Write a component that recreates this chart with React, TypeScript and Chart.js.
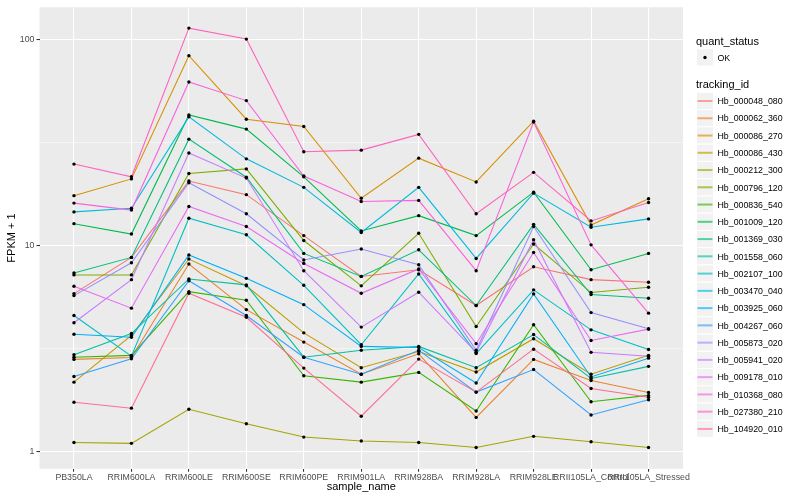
import React, { useEffect, useRef } from 'react';
import { Chart, registerables } from 'chart.js';

Chart.register(...registerables);

// ---------- data ----------
const categories = [
  'PB350LA', 'RRIM600LA', 'RRIM600LE', 'RRIM600SE', 'RRIM600PE', 'RRIM901LA',
  'RRIM928BA', 'RRIM928LA', 'RRIM928LE', 'RRII105LA_Control', 'RRII105LA_Stressed',
];

const trackingIds = [
  'Hb_000048_080', 'Hb_000062_360', 'Hb_000086_270', 'Hb_000086_430', 'Hb_000212_300',
  'Hb_000796_120', 'Hb_000836_540', 'Hb_001009_120', 'Hb_001369_030', 'Hb_001558_060',
  'Hb_002107_100', 'Hb_003470_040', 'Hb_003925_060', 'Hb_004267_060', 'Hb_005873_020',
  'Hb_005941_020', 'Hb_009178_010', 'Hb_010368_080', 'Hb_027380_210', 'Hb_104920_010',
];

const quantStatus = ['OK'];

const hb_000048_080 = [5.86, 8.78, 20.6, 17.7, 11.2, 7.10, 7.65, 5.13, 7.91, 6.85, 6.65];
const hb_000062_360 = [2.81, 2.87, 8.15, 4.90, 3.41, 2.38, 2.99, 1.47, 2.81, 2.22, 1.94];
const hb_000086_270 = [17.5, 21.1, 83.6, 41.1, 37.9, 17.0, 26.6, 20.4, 40.2, 12.6, 16.9];
const hb_000086_430 = [2.18, 3.67, 8.62, 6.40, 3.78, 2.56, 3.07, 2.44, 3.54, 2.38, 2.94];
const hb_000212_300 = [1.11, 1.10, 1.61, 1.37, 1.18, 1.13, 1.11, 1.05, 1.19, 1.12, 1.05];
const hb_000796_120 = [7.22, 7.22, 22.4, 23.6, 10.6, 6.39, 11.5, 4.06, 10.2, 5.93, 6.29];
const hb_000836_540 = [2.88, 2.94, 5.99, 5.44, 2.34, 2.18, 2.43, 1.58, 4.14, 1.75, 1.88];
const hb_001009_120 = [12.8, 11.4, 43.1, 36.8, 21.6, 11.8, 14.0, 11.2, 18.2, 7.65, 9.18];
const hb_001369_030 = [7.38, 8.78, 32.9, 21.5, 9.18, 7.10, 9.56, 5.13, 12.7, 5.80, 5.56];
const hb_001558_060 = [2.96, 3.75, 6.90, 6.46, 2.88, 3.11, 3.25, 2.56, 3.71, 2.27, 2.60];
const hb_002107_100 = [4.59, 2.91, 13.6, 11.3, 6.43, 3.31, 7.30, 3.00, 6.11, 3.91, 3.14];
const hb_003470_040 = [14.6, 15.2, 42.2, 26.4, 19.2, 11.6, 19.2, 8.68, 18.0, 12.3, 13.5];
const hb_003925_060 = [3.72, 3.60, 9.02, 6.95, 5.18, 3.25, 3.21, 2.16, 5.84, 2.31, 2.85];
const hb_004267_060 = [2.32, 2.83, 6.77, 4.59, 2.88, 2.38, 3.11, 1.95, 2.51, 1.51, 1.79];
const hb_005873_020 = [5.73, 8.27, 20.2, 14.3, 8.53, 9.64, 8.09, 3.11, 12.4, 4.74, 3.96];
const hb_005941_020 = [4.23, 6.85, 28.2, 21.3, 7.57, 4.03, 5.95, 3.04, 10.7, 3.04, 2.91];
const hb_009178_010 = [6.36, 4.98, 15.5, 12.4, 8.21, 5.88, 7.72, 3.35, 9.28, 3.47, 3.94];
const hb_010368_080 = [16.1, 14.9, 62.3, 50.6, 21.8, 16.4, 16.6, 7.57, 39.8, 10.1, 4.71];
const hb_027380_210 = [24.9, 21.6, 113.7, 100.6, 28.6, 29.1, 34.7, 14.3, 22.7, 13.2, 16.2];
const hb_104920_010 = [1.74, 1.63, 5.88, 4.50, 2.55, 1.49, 2.82, 1.95, 3.15, 2.03, 1.84];

const seriesValues = [
  hb_000048_080, hb_000062_360, hb_000086_270, hb_000086_430, hb_000212_300,
  hb_000796_120, hb_000836_540, hb_001009_120, hb_001369_030, hb_001558_060,
  hb_002107_100, hb_003470_040, hb_003925_060, hb_004267_060, hb_005873_020,
  hb_005941_020, hb_009178_010, hb_010368_080, hb_027380_210, hb_104920_010,
];

const yMajorTicks = [1, 10, 100];
const yMinorTicks = [3.1623, 31.623];

// ---------- styles ----------
const seriesColors = [
  '#F8766D', '#EA8331', '#D89000', '#C09B00', '#A3A500', '#7CAE00', '#39B600',
  '#00BB4E', '#00BF7D', '#00C1A3', '#00BFC4', '#00BAE0', '#00B0F6', '#35A2FF',
  '#9590FF', '#C77CFF', '#E76BF3', '#FA62DB', '#FF62BC', '#FF6C91',
];

const FONT = '"Liberation Sans", Arial, Helvetica, sans-serif';

const isMajor = (v: number) => {
  const l = Math.log10(v);
  return Math.abs(l - Math.round(l)) < 0.01;
};

export default function App() {
  const ref = useRef<HTMLCanvasElement>(null);

  useEffect(() => {
    document.body.style.margin = '0';
    const canvas = ref.current;
    if (!canvas) return;

    const panelPlugin = {
      id: 'ggPanel',
      beforeDraw(chart: any) {
        const { ctx, chartArea: a } = chart;
        ctx.save();
        ctx.fillStyle = '#FFFFFF';
        ctx.fillRect(0, 0, chart.width, chart.height);
        ctx.fillStyle = '#EBEBEB';
        ctx.fillRect(a.left, a.top, a.right - a.left, a.bottom - a.top);
        ctx.restore();
      },
    };

    const legendPlugin = {
      id: 'ggLegend',
      afterDraw(chart: any) {
        const ctx = chart.ctx as CanvasRenderingContext2D;
        const kx = 696.5;
        const kw = 17;
        const kh = 17.26;
        const tx = 717.5;
        ctx.save();
        ctx.textAlign = 'left';
        ctx.textBaseline = 'alphabetic';
        ctx.fillStyle = '#000000';
        ctx.font = `11px ${FONT}`;
        ctx.fillText('quant_status', 696, 44.5);

        // quant_status key
        const qy = 48.8;
        ctx.fillStyle = '#F2F2F2';
        ctx.fillRect(kx, qy, kw, kh);
        ctx.strokeStyle = '#FFFFFF';
        ctx.lineWidth = 1;
        ctx.strokeRect(kx, qy, kw, kh);
        ctx.fillStyle = '#000000';
        ctx.beginPath();
        ctx.arc(kx + kw / 2, qy + kh / 2, 1.7, 0, Math.PI * 2);
        ctx.fill();
        ctx.font = `8.8px ${FONT}`;
        ctx.fillText(quantStatus[0], tx, qy + kh / 2 + 3.2);

        ctx.font = `11px ${FONT}`;
        ctx.fillText('tracking_id', 696, 87.8);

        trackingIds.forEach((name, i) => {
          const cy = 101 + kh * i;
          ctx.fillStyle = '#F2F2F2';
          ctx.fillRect(kx, cy - kh / 2, kw, kh);
          ctx.strokeStyle = '#FFFFFF';
          ctx.lineWidth = 1;
          ctx.strokeRect(kx, cy - kh / 2, kw, kh);
          ctx.save();
          ctx.globalAlpha = 0.65;
          ctx.strokeStyle = seriesColors[i];
          ctx.lineWidth = 2;
          ctx.beginPath();
          ctx.moveTo(kx + 1, cy);
          ctx.lineTo(kx + kw - 1, cy);
          ctx.stroke();
          ctx.restore();
          ctx.fillStyle = '#000000';
          ctx.font = `8.8px ${FONT}`;
          ctx.fillText(name, tx, cy + 3.2);
        });
        ctx.restore();
      },
    };

    const lineDatasets = seriesValues.map((vals, i) => ({
      type: 'line' as const,
      label: trackingIds[i],
      data: vals.map((v, j) => ({ x: j, y: v })),
      borderColor: seriesColors[i],
      backgroundColor: seriesColors[i],
      borderWidth: 1.07,
      pointRadius: 0,
      pointHoverRadius: 0,
      tension: 0,
      fill: false,
      order: 100 - i,
    }));

    const pointDatasets = seriesValues.map((vals, i) => ({
      type: 'line' as const,
      label: trackingIds[i] + ' (' + quantStatus[0] + ')',
      data: vals.map((v, j) => ({ x: j, y: v })),
      showLine: false,
      pointRadius: 1.7,
      pointHoverRadius: 1.7,
      pointBackgroundColor: '#000000',
      pointBorderColor: '#000000',
      pointBorderWidth: 0,
      order: 0,
    }));

    const tickFont = { family: FONT, size: 8.8 };

    const chart = new Chart(canvas, {
      type: 'line',
      data: { datasets: [...lineDatasets, ...pointDatasets] as any },
      plugins: [panelPlugin, legendPlugin],
      options: {
        animation: false,
        responsive: false,
        events: [],
        layout: { padding: { top: 5.7, right: 117, left: 0, bottom: 0 } },
        plugins: {
          legend: { display: false },
          tooltip: { enabled: false },
          title: { display: false },
        },
        scales: {
          x: {
            type: 'linear',
            min: -0.6,
            max: 10.6,
            afterBuildTicks: (s: any) => {
              s.ticks = categories.map((_, i) => ({ value: i }));
            },
            afterFit: (s: any) => {
              s.height = 31.2;
            },
            ticks: {
              autoSkip: false,
              maxRotation: 0,
              minRotation: 0,
              padding: 0,
              color: '#4D4D4D',
              font: tickFont,
              callback: (_v: any, idx: number) => categories[idx] ?? '',
            },
            grid: {
              color: '#FFFFFF',
              lineWidth: 1.07,
              tickLength: 3,
              tickColor: '#333333',
              tickWidth: 1.07,
            },
            border: { display: false },
            title: {
              display: true,
              text: 'sample_name',
              color: '#000000',
              font: { family: FONT, size: 11 },
              padding: { top: 0, bottom: 6.4 },
            },
          },
          y: {
            type: 'logarithmic',
            min: 0.828,
            max: 143.5,
            afterBuildTicks: (s: any) => {
              s.ticks = [...yMajorTicks, ...yMinorTicks]
                .sort((a, b) => a - b)
                .map((v) => ({ value: v }));
            },
            afterFit: (s: any) => {
              s.width = 39.5;
            },
            ticks: {
              autoSkip: false,
              padding: 2,
              color: '#4D4D4D',
              font: tickFont,
              callback: (v: any) => (isMajor(Number(v)) ? String(Math.round(Number(v))) : ''),
            },
            grid: {
              color: '#FFFFFF',
              lineWidth: (c: any) => (c.tick && isMajor(c.tick.value) ? 1.07 : 0.53),
              tickLength: 3,
              tickColor: (c: any) => (c.tick && isMajor(c.tick.value) ? '#333333' : 'rgba(0,0,0,0)'),
              tickWidth: 1.07,
            },
            border: { display: false },
            title: {
              display: true,
              text: 'FPKM + 1',
              color: '#000000',
              font: { family: FONT, size: 11 },
              padding: { top: 5.4, bottom: 0 },
            },
          },
        },
      } as any,
    });

    return () => chart.destroy();
  }, []);

  return (
    <div style={{ width: 800, height: 500 }}>
      <canvas ref={ref} width={800} height={500} style={{ display: 'block' }} />
    </div>
  );
}
